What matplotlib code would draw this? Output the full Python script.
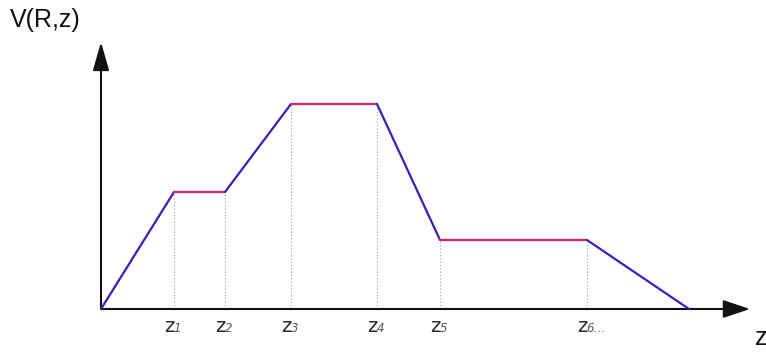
import matplotlib
matplotlib.use("Agg")
import matplotlib.pyplot as plt

# Breakpoints of the piecewise-linear profile (z along the axis, V height)
z_points = [0, 73, 124, 190, 276, 339, 486, 588]
v_points = [0, 117, 117, 205, 205, 69, 69, 0]
# segment type: slope or plateau
segment_kind = ["slope", "flat", "slope", "flat", "slope", "flat", "slope"]
# labelled breakpoints (index into z_points) and their subscripts
label_idx = [1, 2, 3, 4, 5, 6]
label_sub = ["1", "2", "3", "4", "5", "6…"]

BLUE = "#3a1ec2"
RED = "#d32658"

W, H = 766, 353
fig = plt.figure(figsize=(W / 100, H / 100), dpi=100)
ax = fig.add_axes([0, 0, 1, 1])
ox, oy = 101, 309  # origin position in pixels
ax.set_xlim(-ox, W - ox)
ax.set_ylim(-(H - oy), oy)
ax.axis("off")

PT = 0.72  # points per pixel at 100 dpi

# dotted drop lines
for i in label_idx:
    ax.plot([z_points[i], z_points[i]], [0, v_points[i]], ls=(0, (1, 2)),
            color="#9a9a9a", lw=0.8, zorder=1)

# axes with arrow heads
ax.annotate("", xy=(649, 0), xytext=(0, 0),
            arrowprops=dict(arrowstyle="-|>,head_length=1.65,head_width=0.55",
                            color="#111111", lw=1.5, shrinkA=0, shrinkB=0),
            zorder=2)
ax.annotate("", xy=(0, 267), xytext=(0, 0),
            arrowprops=dict(arrowstyle="-|>,head_length=1.75,head_width=0.5",
                            color="#111111", lw=1.5, shrinkA=0, shrinkB=0),
            zorder=2)

# profile segments
for k, kind in enumerate(segment_kind):
    ax.plot(z_points[k:k + 2], v_points[k:k + 2],
            color=RED if kind == "flat" else BLUE, lw=1.6,
            solid_capstyle="round", zorder=3)

# breakpoint labels: upright "z" followed by a small italic index
for i, s in zip(label_idx, label_sub):
    ax.annotate("z", xy=(z_points[i], 0), xytext=(-10 * PT, -23 * PT),
                textcoords="offset points", ha="left", va="baseline",
                fontsize=14, color="#2a2a2a", family="DejaVu Sans")
    ax.annotate(s, xy=(z_points[i], 0), xytext=(-0.5 * PT, -23 * PT),
                textcoords="offset points", ha="left", va="baseline",
                fontsize=8.5, style="italic", color="#555555",
                family="DejaVu Sans")

# axis titles
fig.text(10 / W, 1 - 27 / H, "V(R,z)", fontsize=18, family="Liberation Sans",
         color="#111111", ha="left", va="baseline")
fig.text(755 / W, 1 - 345 / H, "z", fontsize=18, family="Liberation Sans",
         color="#111111", ha="left", va="baseline")

fig.savefig("out.png", dpi=100)
